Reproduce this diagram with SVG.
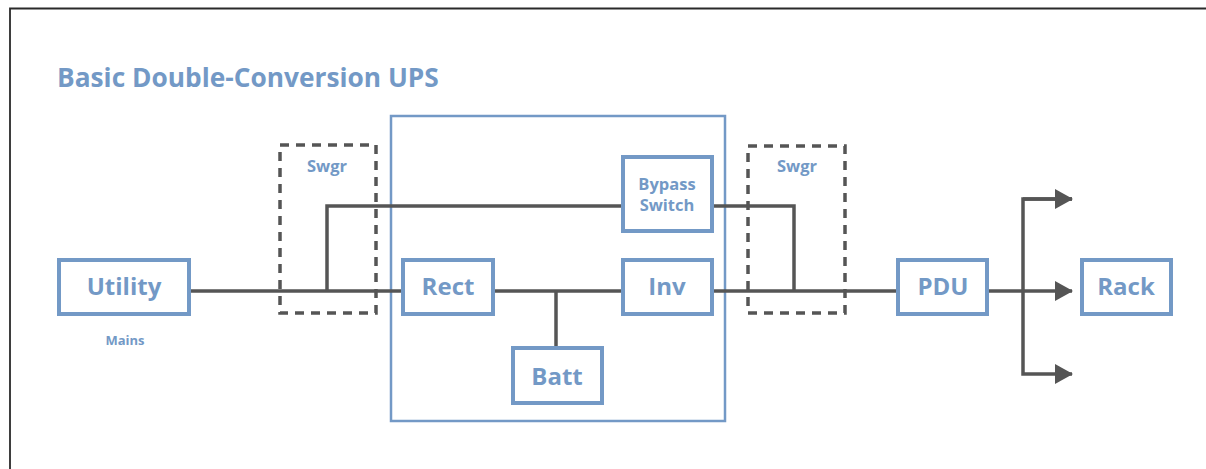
<svg xmlns="http://www.w3.org/2000/svg" width="1206" height="469" viewBox="0 0 1206 469">
<style>
.box{fill:#fff;stroke:#7399c6;stroke-width:4}
.lbl{font-family:"Open Sans","Noto Sans",sans-serif;font-weight:700;fill:#7399c6;text-anchor:middle}
.big{font-size:24px}
.wire{fill:none;stroke:#555;stroke-width:3.5}
.dash{fill:none;stroke:#555;stroke-width:3.5;stroke-dasharray:9 7}
</style>
<defs>
<marker id="ah" viewBox="0 0 18 20" refX="17" refY="10" markerWidth="18" markerHeight="20" markerUnits="userSpaceOnUse" orient="auto">
<path d="M0,0 L18,10 L0,20 Z" fill="#555"/>
</marker>
</defs>
<rect width="1206" height="469" fill="#fff"/>
<path d="M10,469 V8.5 H1206" fill="none" stroke="#2a2a2a" stroke-width="1.8"/>
<text class="lbl" x="57" y="86.5" style="text-anchor:start;font-size:26.3px">Basic Double-Conversion UPS</text>

<g id="ups">
<rect x="391" y="116" width="334" height="305" fill="none" stroke="#7399c6" stroke-width="2.5"/>
</g>
<g id="swgr1">
<rect x="280" y="145" width="96" height="168" class="dash"/>
<text class="lbl" x="327" y="172" font-size="16.5">Swgr</text>
</g>
<g id="swgr2">
<rect x="748" y="146" width="97" height="167" class="dash"/>
<text class="lbl" x="797" y="172" font-size="16.5">Swgr</text>
</g>

<g id="connectors">
<path class="wire" d="M190,291 H403"/>
<path class="wire" d="M327,291 V206 H622"/>
<path class="wire" d="M493,291 H622"/>
<path class="wire" d="M556,291 V347"/>
<path class="wire" d="M713,206 H794 V291"/>
<path class="wire" d="M713,291 H897"/>
<path class="wire" d="M988,291 H1072" marker-end="url(#ah)"/>
<path class="wire" d="M1072,199 H1023 V374 H1072" marker-end="url(#ah)"/>
<path class="wire" d="M1023,199 H1072" marker-end="url(#ah)"/>
</g>

<g id="utility">
<rect class="box" x="59" y="260" width="130" height="54"/>
<text class="lbl big" x="124" y="295">Utility</text>
<text class="lbl" x="125" y="345" font-size="13">Mains</text>
</g>
<g id="rect">
<rect class="box" x="403" y="260" width="90" height="54"/>
<text class="lbl big" x="448" y="295">Rect</text>
</g>
<g id="inv">
<rect class="box" x="623" y="260" width="89" height="54"/>
<text class="lbl big" x="667" y="295">Inv</text>
</g>
<g id="bypass">
<rect class="box" x="623" y="157" width="89" height="74"/>
<text class="lbl" x="667" y="190" font-size="16.5">Bypass</text>
<text class="lbl" x="667" y="211" font-size="16.5">Switch</text>
</g>
<g id="batt">
<rect class="box" x="513" y="348" width="89" height="55"/>
<text class="lbl big" x="557" y="384.5">Batt</text>
</g>
<g id="pdu">
<rect class="box" x="898" y="260" width="89" height="54"/>
<text class="lbl big" x="943" y="295">PDU</text>
</g>
<g id="rack">
<rect class="box" x="1082" y="260" width="89" height="54"/>
<text class="lbl big" x="1126" y="295">Rack</text>
</g>
</svg>
